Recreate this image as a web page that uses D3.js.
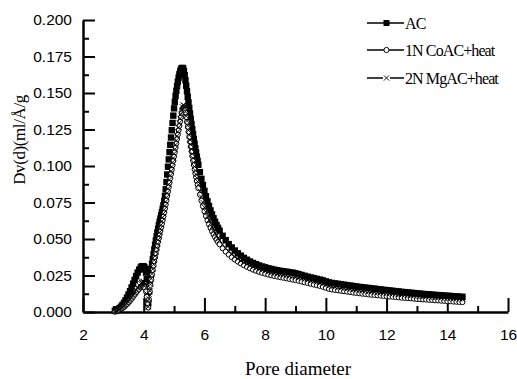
<!DOCTYPE html>
<html>
<head>
<meta charset="utf-8">
<script src="https://cdn.jsdelivr.net/npm/d3@7"></script>
<style>
body{margin:0;background:#fff;}
</style>
</head>
<body>
<div id="visContainer"></div>
<script>
'use strict';

// pore diameter grid (x)
var poreDiameter = [
  3.05,3.10,3.15,3.20,3.25,3.30,3.35,3.40,3.45,3.50,3.55,3.60,3.65,3.70,3.75,3.80,3.85,3.90,
  3.925,3.95,3.975,4.00,4.025,4.05,4.075,4.10,
  4.125,4.15,4.175,4.20,4.225,4.25,4.275,4.30,
  4.325,4.35,4.375,4.40,4.425,4.45,4.475,4.50,
  4.525,4.55,4.575,4.60,4.625,4.65,4.675,4.70,
  4.725,4.75,4.775,4.80,4.825,4.85,4.875,4.90,
  4.925,4.95,4.975,5.00,5.025,5.05,5.075,5.10,
  5.125,5.15,5.175,5.20,5.225,5.25,5.275,5.30,
  5.325,5.35,5.375,5.40,5.425,5.45,5.475,5.50,
  5.525,5.55,5.575,5.60,5.625,5.65,5.675,5.70,
  5.725,5.75,5.775,5.80,
  5.85,5.90,5.95,6.00,6.05,6.10,6.15,6.20,6.25,6.30,6.35,6.40,6.45,6.50,
  6.6,6.7,6.8,6.9,7.0,7.1,7.2,7.3,7.4,7.5,
  7.6,7.7,7.8,7.9,8.0,8.1,8.2,8.3,8.4,8.5,
  8.6,8.7,8.8,8.9,9.0,9.1,9.2,9.3,9.4,9.5,
  9.6,9.7,9.8,9.9,10.0,10.1,10.2,10.3,10.4,10.5,
  10.6,10.7,10.8,10.9,11.0,11.1,11.2,11.3,11.4,11.5,
  11.6,11.7,11.8,11.9,12.0,12.1,12.2,12.3,12.4,12.5,
  12.6,12.7,12.8,12.9,13.0,13.1,13.2,13.3,13.4,13.5,
  13.6,13.7,13.8,13.9,14.0,14.1,14.2,14.3,14.4,14.5
];

// AC (filled squares)
var acValues = [
  .0008,.0012,.0018,.0026,.0036,.0048,.0063,.0080,.0099,.0120,.0143,.0168,.0194,.0220,.0246,.0270,.0290,.0303,
  .0310,.0313,.0314,.0312,.0306,.0294,.0270,.0225,
  .0130,.0060,.0140,.0205,.0255,.0295,.0330,.0362,
  .0395,.0428,.0460,.0490,.0518,.0545,.0570,.0595,
  .0618,.0640,.0662,.0684,.0707,.0731,.0760,.0795,
  .0840,.0890,.0942,.0995,.1045,.1095,.1145,.1195,
  .1245,.1295,.1345,.1395,.1440,.1480,.1515,.1548,
  .1578,.1605,.1628,.1647,.1661,.1670,.1672,.1668,
  .1650,.1622,.1588,.1550,.1512,.1474,.1436,.1398,
  .1360,.1323,.1287,.1252,.1218,.1185,.1153,.1122,
  .1092,.1063,.1035,.1008,
  .0958,.0912,.0870,.0830,.0793,.0758,.0726,.0696,.0668,.0642,.0618,.0596,.0576,.0557,
  .0522,.0492,.0465,.0442,.0421,.0402,.0386,.0371,.0358,.0346,
  .0336,.0327,.0319,.0312,.0306,.0300,.0295,.0290,.0286,.0282,
  .0279,.0276,.0273,.0270,.0265,.0260,.0254,.0248,.0242,.0237,
  .0232,.0227,.0222,.0217,.0210,.0203,.0199,.0196,.0193,.0190,
  .0187,.0184,.0181,.0178,.0175,.0172,.0170,.0167,.0165,.0162,
  .0160,.0157,.0155,.0152,.0150,.0148,.0145,.0143,.0141,.0138,
  .0136,.0134,.0132,.0130,.0128,.0126,.0124,.0122,.0121,.0119,
  .0117,.0116,.0114,.0113,.0111,.0110,.0108,.0107,.0105,.0104
];

// 1N CoAC+heat (open circles)
var coValues = [
  .0002,.0005,.0009,.0014,.0020,.0027,.0035,.0044,.0054,.0065,.0077,.0090,.0104,.0118,.0132,.0146,.0158,.0168,
  .0173,.0176,.0178,.0177,.0172,.0162,.0140,.0105,
  .0060,.0030,.0085,.0140,.0185,.0222,.0256,.0288,
  .0318,.0347,.0375,.0402,.0429,.0455,.0481,.0506,
  .0531,.0556,.0580,.0604,.0630,.0656,.0682,.0708,
  .0736,.0765,.0795,.0825,.0855,.0885,.0915,.0945,
  .0975,.1005,.1035,.1065,.1095,.1125,.1155,.1185,
  .1215,.1245,.1275,.1305,.1335,.1362,.1385,.1398,
  .1400,.1388,.1365,.1335,.1302,.1268,.1234,.1200,
  .1166,.1133,.1100,.1068,.1037,.1007,.0978,.0950,
  .0923,.0897,.0872,.0848,
  .0803,.0762,.0724,.0689,.0657,.0627,.0600,.0575,.0552,.0531,.0512,.0494,.0478,.0463,
  .0436,.0413,.0393,.0375,.0359,.0345,.0332,.0320,.0309,.0299,
  .0290,.0282,.0275,.0268,.0262,.0256,.0251,.0246,.0242,.0238,
  .0234,.0230,.0226,.0222,.0218,.0213,.0208,.0203,.0198,.0193,
  .0188,.0183,.0178,.0172,.0165,.0158,.0154,.0151,.0148,.0145,
  .0142,.0139,.0136,.0133,.0130,.0128,.0125,.0123,.0120,.0118,
  .0116,.0114,.0112,.0110,.0108,.0106,.0104,.0102,.0100,.0098,
  .0096,.0095,.0093,.0091,.0089,.0088,.0086,.0085,.0083,.0082,
  .0080,.0079,.0077,.0076,.0074,.0073,.0071,.0070,.0068,.0067
];

// 2N MgAC+heat (crosses)
var mgValues = [
  .0003,.0007,.0012,.0018,.0025,.0033,.0042,.0052,.0063,.0075,.0088,.0102,.0117,.0133,.0150,.0167,.0183,.0196,
  .0202,.0206,.0208,.0207,.0202,.0190,.0166,.0125,
  .0070,.0035,.0090,.0145,.0190,.0228,.0262,.0294,
  .0325,.0355,.0384,.0412,.0440,.0467,.0494,.0520,
  .0546,.0572,.0597,.0622,.0648,.0674,.0701,.0728,
  .0756,.0785,.0815,.0845,.0875,.0905,.0935,.0965,
  .0995,.1025,.1055,.1085,.1115,.1145,.1175,.1205,
  .1235,.1265,.1295,.1325,.1355,.1382,.1405,.1418,
  .1415,.1398,.1372,.1342,.1310,.1277,.1244,.1211,
  .1178,.1146,.1114,.1083,.1053,.1024,.0996,.0969,
  .0943,.0918,.0894,.0871,
  .0828,.0788,.0751,.0717,.0686,.0657,.0630,.0605,.0582,.0561,.0541,.0523,.0506,.0490,
  .0462,.0437,.0415,.0396,.0379,.0364,.0350,.0338,.0327,.0317,
  .0308,.0300,.0293,.0286,.0280,.0274,.0269,.0264,.0260,.0256,
  .0252,.0249,.0246,.0242,.0238,.0233,.0228,.0223,.0218,.0213,
  .0208,.0203,.0198,.0192,.0185,.0178,.0174,.0171,.0168,.0165,
  .0162,.0159,.0156,.0153,.0150,.0147,.0145,.0142,.0140,.0137,
  .0135,.0133,.0131,.0129,.0127,.0125,.0123,.0121,.0119,.0117,
  .0115,.0113,.0112,.0110,.0108,.0107,.0105,.0104,.0102,.0101,
  .0099,.0098,.0097,.0095,.0094,.0093,.0091,.0090,.0089,.0088
];

var legendLabels = ['AC', '1N CoAC+heat', '2N MgAC+heat'];
var xMajorTicks = [2, 4, 6, 8, 10, 12, 14, 16];
var xMinorTicks = [3, 5, 7, 9, 11, 13, 15];
var yMajorTicks = [0, 0.025, 0.05, 0.075, 0.1, 0.125, 0.15, 0.175, 0.2];
var yMinorTicks = [0.0125, 0.0375, 0.0625, 0.0875, 0.1125, 0.1375, 0.1625, 0.1875];

var width = 517, height = 379;
var margin = {top: 20, right: 9, bottom: 67, left: 83};
var sans = '"Liberation Sans", Arial, sans-serif';
var serif = '"Liberation Serif", "Times New Roman", serif';

var svg = d3.select('#visContainer')
  .append('svg')
  .attr('width', width)
  .attr('height', height)
  .style('display', 'block');

var xScale = d3.scaleLinear().domain([2, 16]).range([margin.left, width - margin.right]);
var yScale = d3.scaleLinear().domain([0, 0.2]).range([height - margin.bottom, margin.top]);

// x axis: major ticks with labels, minor ticks without, all pointing inward
var xAxisG = svg.append('g')
  .attr('transform', 'translate(0,' + yScale(0) + ')')
  .call(d3.axisBottom(xScale).tickValues(xMajorTicks).tickSizeInner(-14).tickSizeOuter(0)
    .tickPadding(17).tickFormat(d3.format('d')));
svg.append('g')
  .attr('class', 'minor')
  .attr('transform', 'translate(0,' + yScale(0) + ')')
  .call(d3.axisBottom(xScale).tickValues(xMinorTicks).tickSizeInner(-6).tickSizeOuter(0).tickFormat(''));

var yAxisG = svg.append('g')
  .attr('transform', 'translate(' + xScale(2) + ',0)')
  .call(d3.axisLeft(yScale).tickValues(yMajorTicks).tickSizeInner(-12).tickSizeOuter(0)
    .tickPadding(11).tickFormat(d3.format('.3f')));
svg.append('g')
  .attr('class', 'minor')
  .attr('transform', 'translate(' + xScale(2) + ',0)')
  .call(d3.axisLeft(yScale).tickValues(yMinorTicks).tickSizeInner(-6).tickSizeOuter(0).tickFormat(''));

svg.selectAll('.minor .domain').remove();
svg.selectAll('.domain').attr('stroke', '#000').attr('stroke-width', 2.5);
svg.selectAll('.tick line').attr('stroke', '#000').attr('stroke-width', 2);
svg.selectAll('.tick text')
  .attr('fill', '#000')
  .style('font-family', sans)
  .style('font-size', '15.5px');

// axis titles
svg.append('text')
  .attr('x', 298)
  .attr('y', 375)
  .attr('text-anchor', 'middle')
  .style('font-family', serif)
  .style('font-size', '19px')
  .text('Pore diameter');

svg.append('text')
  .attr('transform', 'translate(25,140) rotate(-90)')
  .attr('text-anchor', 'middle')
  .style('font-family', serif)
  .style('font-size', '17px')
  .style('letter-spacing', '-0.4px')
  .text('Dv(d)(ml/Å/g');

// build point rows from the named arrays
function series(values) {
  return poreDiameter.map(function(d, i) { return {x: d, y: values[i]}; })
    .filter(function(p) { return p.y !== undefined; });
}

var crossPath = 'M-2.6,-2.6L2.6,2.6M-2.6,2.6L2.6,-2.6';

// AC squares
svg.append('g').selectAll('rect')
  .data(series(acValues))
  .enter().append('rect')
  .attr('x', function(d) { return xScale(d.x) - 3.2; })
  .attr('y', function(d) { return yScale(d.y) - 3.2; })
  .attr('width', 6.4)
  .attr('height', 6.4)
  .attr('fill', '#000');

// CoAC circles
svg.append('g').selectAll('circle')
  .data(series(coValues))
  .enter().append('circle')
  .attr('cx', function(d) { return xScale(d.x); })
  .attr('cy', function(d) { return yScale(d.y); })
  .attr('r', 2.5)
  .attr('fill', '#fff')
  .attr('stroke', '#000')
  .attr('stroke-width', 1);

// MgAC crosses
svg.append('g').selectAll('path')
  .data(series(mgValues))
  .enter().append('path')
  .attr('transform', function(d) { return 'translate(' + xScale(d.x) + ',' + yScale(d.y) + ')'; })
  .attr('d', crossPath)
  .attr('fill', 'none')
  .attr('stroke', '#000')
  .attr('stroke-width', 0.9);

// legend
var legendRows = [23, 50, 78];
var legend = svg.append('g');
legendLabels.forEach(function(label, i) {
  var g = legend.append('g').attr('transform', 'translate(0,' + legendRows[i] + ')');
  g.append('line').attr('x1', 367).attr('x2', 404).attr('y1', 0).attr('y2', 0)
    .attr('stroke', '#000').attr('stroke-width', 1.6);
  if (i === 0) {
    g.append('rect').attr('x', 383.5).attr('y', -3).attr('width', 6).attr('height', 6).attr('fill', '#000');
  } else if (i === 1) {
    g.append('circle').attr('cx', 386.5).attr('cy', 0).attr('r', 2.6)
      .attr('fill', '#fff').attr('stroke', '#000').attr('stroke-width', 1);
  } else {
    g.append('rect').attr('x', 383).attr('y', -4).attr('width', 7).attr('height', 8).attr('fill', '#fff');
    g.append('path').attr('transform', 'translate(386.5,0)').attr('d', crossPath)
      .attr('stroke', '#000').attr('stroke-width', 0.9);
  }
  g.append('text')
    .attr('x', 405)
    .attr('y', 5.5)
    .style('font-family', serif)
    .style('font-size', '16px')
    .style('letter-spacing', '-0.9px')
    .text(label);
});
</script>
</body>
</html>
